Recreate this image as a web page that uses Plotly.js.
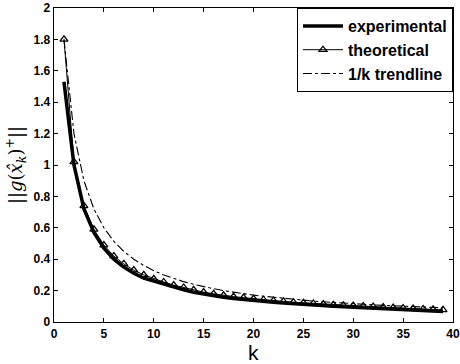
<!DOCTYPE html>
<html>
<head>
<meta charset="utf-8">
<script src="https://cdn.plot.ly/plotly-3.0.1.min.js"></script>
<style>html,body{margin:0;padding:0;background:#fff;}#chart{width:460px;height:364px;}</style>
</head>
<body>
<div id="chart"></div>
<script>
var k = [1,2,3,4,5,6,7,8,9,10,11,12,13,14,15,16,17,18,19,20,21,22,23,24,25,26,27,28,29,30,31,32,33,34,35,36,37,38,39];
var experimental = [1.53,1.00,0.72,0.57,0.47,0.40,0.35,0.31,0.28,0.26,0.24,0.22,0.205,0.19,0.178,0.167,0.158,0.15,0.143,0.137,0.131,0.126,0.121,0.116,0.112,0.108,0.104,0.100,0.097,0.094,0.091,0.088,0.085,0.082,0.079,0.076,0.073,0.070,0.067];
var theoretical = [1.80,1.02,0.74,0.59,0.49,0.42,0.37,0.33,0.30,0.275,0.255,0.235,0.22,0.205,0.19,0.18,0.17,0.162,0.155,0.148,0.142,0.136,0.131,0.126,0.122,0.118,0.114,0.110,0.107,0.104,0.101,0.098,0.095,0.092,0.089,0.086,0.083,0.080,0.077];
var trendline = [1.80,1.20,0.90,0.72,0.60,0.514,0.45,0.40,0.36,0.327,0.30,0.277,0.257,0.24,0.225,0.212,0.20,0.189,0.18,0.171,0.164,0.157,0.15,0.144,0.138,0.133,0.129,0.124,0.12,0.116,0.113,0.109,0.106,0.103,0.10,0.097,0.095,0.092,0.09];
var xTicks = [0,5,10,15,20,25,30,35,40];
var yTicks = [0,0.2,0.4,0.6,0.8,1,1.2,1.4,1.6,1.8,2];
var seriesNames = ['experimental','theoretical','1/k trendline'];
var xLabel = 'k';
var yLabel = '||<i>g</i>(<i>x̂</i><sub><i>k</i></sub>)<sup>+</sup>||';

var traces = [
  {x:k, y:experimental, name:seriesNames[0], mode:'lines', line:{color:'#000', width:3.5}},
  {x:k, y:theoretical, name:seriesNames[1], mode:'lines+markers', line:{color:'#000', width:1},
   marker:{symbol:'triangle-up-open', size:7, color:'#000', line:{width:1.3, color:'#000'}}},
  {x:k, y:trendline, name:seriesNames[2], mode:'lines', line:{color:'#000', width:1.1, dash:'dashdot'}}
];

var sans = 'Liberation Sans, Arial, Helvetica, sans-serif';
var axisCommon = {
  showgrid:false, zeroline:false, showline:true, linecolor:'#000', linewidth:1.3,
  mirror:'ticks', ticks:'inside', ticklen:4, tickcolor:'#000',
  tickfont:{family:sans, size:12, color:'#000', weight:700}
};

var layout = {
  width:460, height:364,
  margin:{l:54, r:7, t:8, b:42},
  paper_bgcolor:'#fff', plot_bgcolor:'#fff',
  showlegend:true,
  legend:{x:1, xanchor:'right', y:1, yanchor:'top', bgcolor:'#fff', bordercolor:'#000', borderwidth:1,
    font:{family:sans, size:16, color:'#000', weight:700}, tracegroupgap:0, itemwidth:40},
  xaxis: Object.assign({}, axisCommon, {range:[0,40], tickvals:xTicks, ticktext:xTicks.map(String)}),
  yaxis: Object.assign({}, axisCommon, {range:[0,2], tickvals:yTicks, ticktext:yTicks.map(String),
    title:{text:yLabel, standoff:6,
      font:{family:'DejaVu Serif, Liberation Serif, serif', size:18, color:'#000'}}}),
  annotations:[{text:xLabel, xref:'paper', yref:'paper', x:0.5, y:-0.097, xanchor:'center', yanchor:'middle',
    showarrow:false, font:{family:sans, size:21, color:'#000'}}]
};

Plotly.newPlot('chart', traces, layout, {displayModeBar:false, staticPlot:true});
</script>
</body>
</html>
